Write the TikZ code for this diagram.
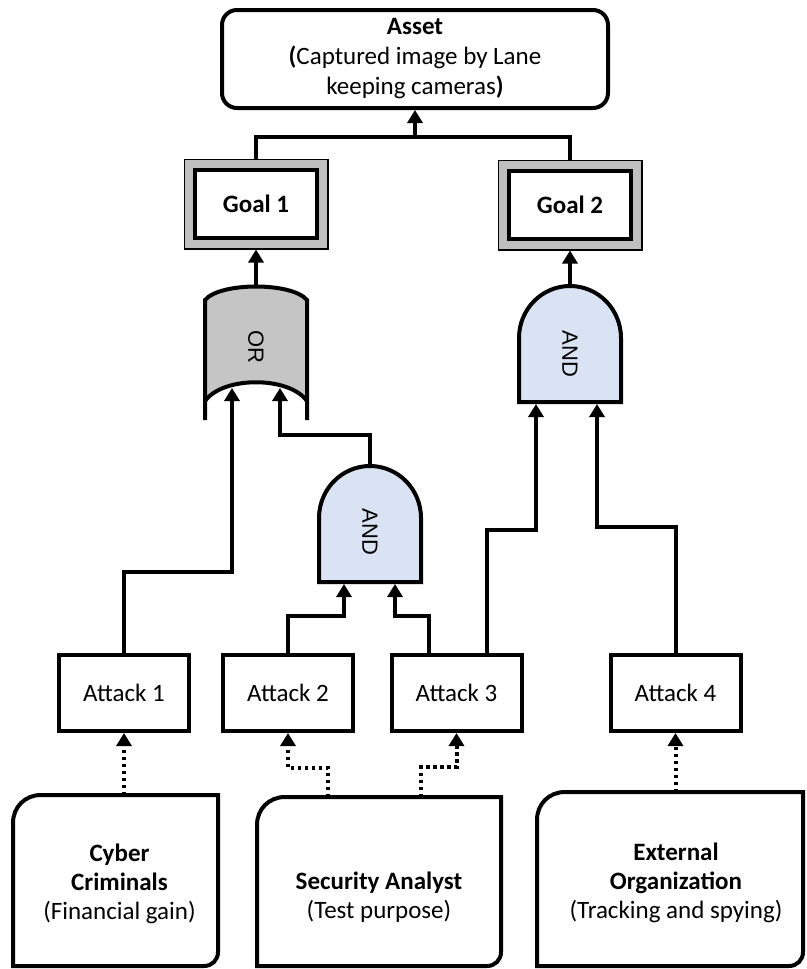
\documentclass[tikz,border=0pt]{standalone}
\usepackage{fontspec}
\setmainfont{Carlito}
\newfontfamily\gatefont{Liberation Sans}
\usetikzlibrary{arrows.meta,calc}
\definecolor{andblue}{RGB}{218,227,243}
\definecolor{orgray}{RGB}{197,197,197}
\definecolor{bandgray}{RGB}{191,191,191}

% actor frame: large rounded top-left corner, small rounded bottom-right corner
\newcommand{\actorframe}[1]{%
  \draw[line width=4pt] (#1.south west) -- ([yshift=-28pt]#1.north west)
    .. controls ([yshift=-12pt]#1.north west) and ([xshift=12pt]#1.north west) .. ([xshift=28pt]#1.north west)
    -- (#1.north east) -- ([yshift=14pt]#1.south east)
    .. controls ([yshift=6pt]#1.south east) and ([xshift=-6pt]#1.south east) .. ([xshift=-14pt]#1.south east)
    -- cycle;}

\begin{document}
\begin{tikzpicture}[x=1pt,y=-1pt,
  every node/.style={font=\fontsize{25}{30}\selectfont},
  plain/.style={line width=4pt},
  conn/.style={line width=4pt, -{Triangle[length=13pt,width=15pt]}},
  dotconn/.style={line width=4pt, dash pattern=on 3.5pt off 3.5pt, -{Triangle[length=13pt,width=15pt]}},
  assetbox/.style={draw, line width=4pt, rounded corners=15pt, align=center,
    minimum width=386pt, minimum height=98pt, inner sep=0pt, fill=white},
  goalbox/.style={draw, line width=4pt, fill=white, minimum width=122pt, minimum height=68pt,
    inner sep=0pt, outer sep=11.5pt, font=\fontsize{25}{30}\selectfont\bfseries,
    preaction={draw=black, line width=23pt}, preaction={draw=bandgray, line width=20pt}},
  attackbox/.style={draw, line width=4pt, fill=white, minimum width=130pt, minimum height=76pt, inner sep=0pt},
  gatebody/.style={inner sep=0pt, outer sep=0pt},
  gatetext/.style={font=\gatefont\fontsize{22}{24}\selectfont, text=black},
  actorbox/.style={inner sep=0pt, outer sep=0pt},
  actortext/.style={align=center, font=\fontsize{25}{29}\selectfont}
]
\fill[white] (0,0) rectangle (806,969);
\useasboundingbox (0,0) rectangle (806,969);

% top asset
\node[assetbox] (asset) at (415,59) {\textbf{Asset}\\\textbf{(}Captured image by Lane\\keeping cameras\textbf{)}};

% goals
\node[goalbox] (goal1) at (256,204) {Goal 1};
\node[goalbox] (goal2) at (570,205) {Goal 2};

% OR gate outline
\fill[orgray] (205,300) .. controls (220,282) and (292,282) .. (307,300) -- (307,401)
  .. controls (289,376) and (223,376) .. (205,401) -- cycle;
\draw[plain] (205,420) -- (205,300) .. controls (220,282) and (292,282) .. (307,300) -- (307,420);
\draw[plain] (205,401) .. controls (223,376) and (289,376) .. (307,401);
\node[gatebody, minimum width=102pt, minimum height=115pt,
  label={[gatetext, yshift=-3pt]center:\rotatebox{-90}{OR}}] (orgate) at (256,343.5) {};

% AND gate outlines
\draw[plain, fill=andblue] (319,582) -- (319,518) .. controls (319,489.3) and (341.8,466) .. (370,466)
  .. controls (398.2,466) and (421,489.3) .. (421,518) -- (421,582) -- cycle;
\node[gatebody, minimum width=102pt, minimum height=116pt,
  label={[gatetext, yshift=-8pt]center:\rotatebox{-90}{AND}}] (and1) at (370,524) {};

\draw[plain, fill=andblue] (519,402) -- (519,338) .. controls (519,309.3) and (541.8,286) .. (570,286)
  .. controls (598.2,286) and (621,309.3) .. (621,338) -- (621,402) -- cycle;
\node[gatebody, minimum width=102pt, minimum height=116pt,
  label={[gatetext, yshift=-10pt]center:\rotatebox{-90}{AND}}] (and2) at (570,344) {};

% gate input points
\coordinate (orin1) at (232,388);
\coordinate (orin2) at (280,388);
\coordinate (and1in1) at (344,584);
\coordinate (and1in2) at (395,584);
\coordinate (and2in1) at (536,404);
\coordinate (and2in2) at (597,404);

% attacks
\node[attackbox] (a1) at (124,693) {Attack 1};
\node[attackbox] (a2) at (288,693) {Attack 2};
\node[attackbox] (a3) at (456.5,693) {Attack 3};
\node[attackbox] (a4) at (675.5,693) {Attack 4};

% threat actors
\node[actorbox, minimum width=205pt, minimum height=171pt,
  label={[actortext, xshift=4pt, yshift=-3pt]center:\textbf{Cyber}\\\textbf{Criminals}\\(Financial gain)}] (cyber) at (115.5,880.5) {};
\node[actorbox, minimum width=244pt, minimum height=169pt,
  label={[actortext, yshift=-16pt]center:\textbf{Security Analyst}\\(Test purpose)}] (analyst) at (379,881.5) {};
\node[actorbox, minimum width=266pt, minimum height=174pt,
  label={[actortext, xshift=6pt, yshift=-4pt]center:\textbf{External}\\\textbf{Organization}\\(Tracking and spying)}] (extorg) at (670,879) {};
\actorframe{cyber}
\actorframe{analyst}
\actorframe{extorg}

% goals to asset
\coordinate (join) at (415,137);
\draw[plain] (goal1.north) |- (join) -| (goal2.north);
\draw[conn] (join) -- (asset.south);

% gates to goals
\draw[conn] (orgate.north) -- (goal1.south);
\draw[conn] (and2.north) -- (goal2.south);

% attacks into gates
\draw[conn] (a1.north) -- ++(0,-81) -| (orin1);
\draw[conn] (and1.north) -- ++(0,-31) -| (orin2);
\draw[conn] (a2.north) -- ++(0,-37) -| (and1in1);
\draw[conn] ([xshift=-28pt]a3.north) -- ++(0,-37) -| (and1in2);
\draw[conn] ([xshift=30pt]a3.north) -- ++(0,-123) -| (and2in1);
\draw[conn] (a4.north) -- ++(0,-126) -| (and2in2);

% actors to attacks
\draw[dotconn] (a1.south |- cyber.north) -- (a1.south);
\draw[dotconn] ([xshift=-51pt]analyst.north) -- ++(0,-29) -| (a2.south);
\draw[dotconn] ([xshift=42pt]analyst.north) -- ++(0,-30) -| (a3.south);
\draw[dotconn] (a4.south |- extorg.north) -- (a4.south);
\end{tikzpicture}
\end{document}
